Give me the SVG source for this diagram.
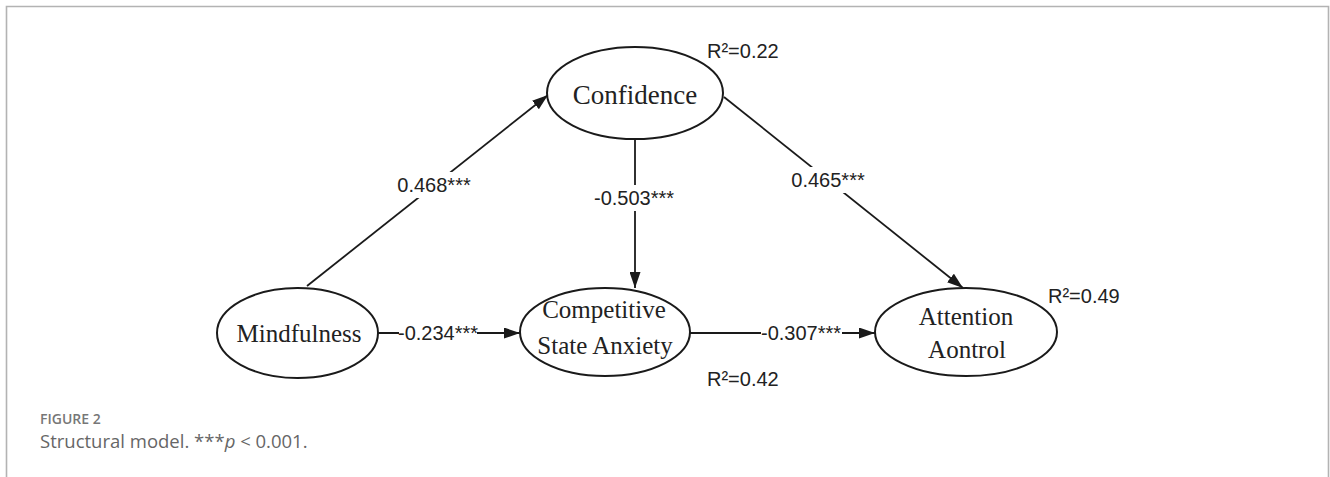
<svg xmlns="http://www.w3.org/2000/svg" width="1330" height="477" viewBox="0 0 1330 477">
<style>
.frame{fill:none;stroke:#b3b3b3;stroke-width:1.6}
.node ellipse{fill:#fff;stroke:#1a1a1a;stroke-width:2}
.nt{font-family:"Liberation Serif","Times New Roman",serif;font-size:25px;fill:#222;text-anchor:middle}
.edge{stroke:#1a1a1a;stroke-width:1.8;fill:none}
.lbl{font-family:"Liberation Sans",Arial,sans-serif;font-size:20px;fill:#222;text-anchor:middle}
.bg{fill:#fff}
.r2{font-family:"Liberation Sans",Arial,sans-serif;font-size:20px;fill:#222}
.cap1{font-family:"Open Sans","Noto Sans",sans-serif;font-size:14px;font-weight:600;fill:#777}
.cap2{font-family:"Open Sans","Noto Sans",sans-serif;font-size:18.5px;fill:#666}
</style>
<defs>
<marker id="ah" viewBox="0 0 16 11" refX="16" refY="5.5" markerWidth="16" markerHeight="11" markerUnits="userSpaceOnUse" orient="auto">
<path d="M0,0 L16,5.5 L0,11 Z" fill="#1a1a1a"/>
</marker>
</defs>
<path class="frame" d="M6.5,477 V6.5 H1328.5 V477"/>
<g id="connectors">
<line class="edge" x1="307" y1="286" x2="548" y2="95" marker-end="url(#ah)"/>
<line class="edge" x1="724" y1="97" x2="963" y2="288" marker-end="url(#ah)"/>
<line class="edge" x1="635" y1="140" x2="635" y2="288" marker-end="url(#ah)"/>
<line class="edge" x1="378" y1="333" x2="520" y2="333" marker-end="url(#ah)"/>
<line class="edge" x1="690" y1="333" x2="875" y2="333" marker-end="url(#ah)"/>
<rect class="bg" x="394" y="172" width="80" height="26"/>
<text class="lbl" x="434" y="192">0.468***</text>
<rect class="bg" x="788" y="167" width="80" height="26"/>
<text class="lbl" x="828" y="187">0.465***</text>
<rect class="bg" x="592" y="185" width="84" height="26"/>
<text class="lbl" x="634" y="205">-0.503***</text>
<rect class="bg" x="399" y="321" width="78" height="24"/>
<text class="lbl" x="438" y="340">-0.234***</text>
<rect class="bg" x="761" y="321" width="81" height="24"/>
<text class="lbl" x="801" y="340">-0.307***</text>
</g>
<g id="confidence" class="node">
<ellipse cx="635" cy="93" rx="88" ry="46"/>
<text class="nt" x="635" y="104" style="font-size:27px">Confidence</text>
<text class="r2" x="707" y="58">R²=0.22</text>
</g>
<g id="mindfulness" class="node">
<ellipse cx="297.5" cy="333" rx="80.5" ry="45"/>
<text class="nt" x="299" y="342">Mindfulness</text>
</g>
<g id="anxiety" class="node">
<ellipse cx="605" cy="332" rx="85" ry="44"/>
<text class="nt" x="604" y="318">Competitive</text>
<text class="nt" x="605" y="354">State Anxiety</text>
<text class="r2" x="707" y="386">R²=0.42</text>
</g>
<g id="attention" class="node">
<ellipse cx="966" cy="332" rx="91" ry="44"/>
<text class="nt" x="966" y="325">Attention</text>
<text class="nt" x="967" y="358">Aontrol</text>
<text class="r2" x="1048" y="303">R²=0.49</text>
</g>
<g id="caption">
<text class="cap1" x="40" y="424">FIGURE 2</text>
<text class="cap2" x="40" y="448">Structural model. ***<tspan font-style="italic">p</tspan> &lt; 0.001.</text>
</g>
</svg>
